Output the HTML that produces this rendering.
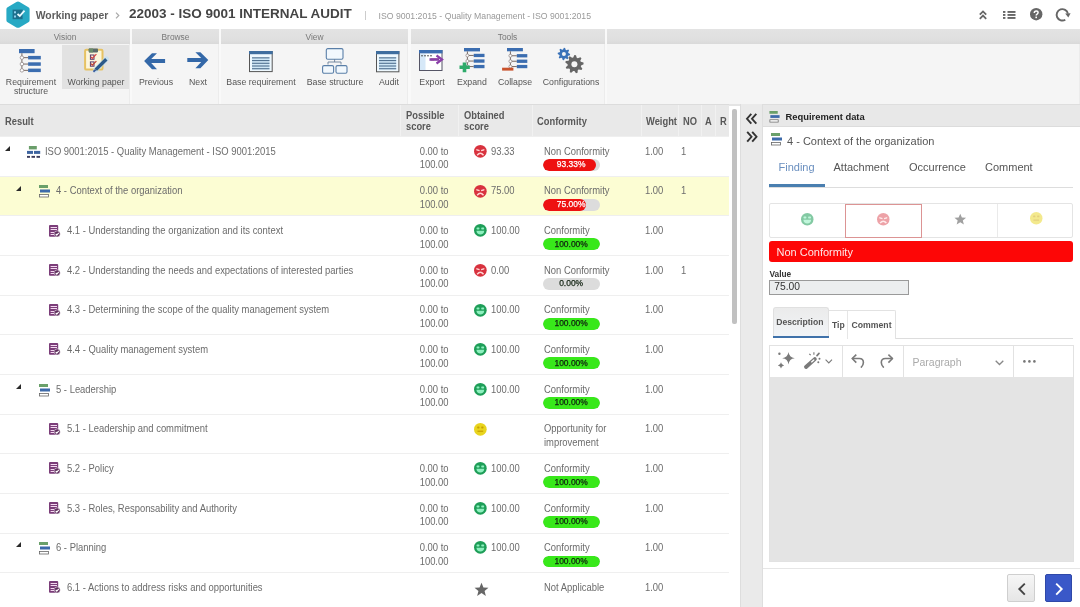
<!DOCTYPE html>
<html><head><meta charset="utf-8">
<style>
*{box-sizing:border-box;margin:0;padding:0}
html,body{width:1080px;height:607px;overflow:hidden;background:#fff;font-family:"Liberation Sans",sans-serif;color:#555}
.abs{position:absolute}
svg{display:block;overflow:visible}
#top{position:absolute;left:0;top:0;width:1080px;height:29px;background:#fff}
#wp{left:35.7px;top:9.6px;font-size:10.4px;font-weight:bold;color:#5c5c5c}
#title{left:129px;top:6.4px;font-size:13.5px;font-weight:bold;color:#444}
#sub{left:378.5px;top:10.5px;font-size:8.7px;color:#999}
.gh{position:absolute;top:29px;height:14.5px;background:linear-gradient(#e3e3e3,#dfdfdf 75%,#d9d9d9);font-size:8.4px;color:#777;text-align:center;line-height:16.6px}
.gb{position:absolute;top:43.5px;height:60.5px;background:#f5f5f5;border-right:1px solid #ececec}
.lb{position:absolute;font-size:9.4px;color:#555;line-height:9.1px;white-space:nowrap;text-align:center;transform:scaleX(0.936);transform-origin:50% 0}
#thead{position:absolute;left:0;top:104px;width:729px;height:32.5px;background:#e9e9e9;font-size:10.05px;font-weight:bold;color:#585858;border-top:1.5px solid #dcdcdc;border-bottom:1px solid #dadada}
#thead div{position:absolute;line-height:11px;transform:scaleX(0.93);transform-origin:0 0;white-space:nowrap}
#thead i{position:absolute;top:0;bottom:0;width:1px;background:#f1f1f1}
.row{position:absolute;left:0;width:729px;height:39.64px;border-top:1px solid #efefef;font-size:9.5px;color:#6c6c6c;background:#fff}
.row.sel{background:#fcfdd3}
.row > *{position:absolute}
.t{top:7.6px;line-height:13.7px;white-space:nowrap;font-size:10.2px;transform:scaleX(0.926);transform-origin:0 0}
.t.ps{transform-origin:100% 0}
.ps{left:400px;width:48.5px;text-align:right}
.ob{left:491px}
.cf{left:543.5px}
.wt{left:645px}
.no{left:681px}
.bar{top:22px;left:543.3px;width:56.3px;height:11.8px;border-radius:6px;background:#dcdcdc;overflow:hidden}
.bar i{position:absolute;left:0;top:0;bottom:0;border-radius:6px}
.bar b{position:absolute;left:0;right:0;top:0.3px;text-align:center;font-size:9.2px;font-weight:normal;line-height:11.8px;color:#fff;transform:scaleX(0.92);-webkit-text-stroke:0.25px currentColor}
.face{left:474.2px;top:7.9px}
#strip{position:absolute;left:740px;top:104px;width:22.5px;height:503px;background:#eaeaea;border-right:1px solid #dedede;border-left:1.5px solid #dddddd}
#panel{position:absolute;left:762.5px;top:104px;width:317.5px;height:503px;background:#fff}
#panel > *{position:absolute}
</style></head><body><div id="root" style="position:absolute;left:0;top:0;width:1080px;height:607px;overflow:hidden;background:#fff;will-change:transform">
<div id="top">
<svg class="abs" style="left:5.5px;top:0.8px" width="24" height="27.5" viewBox="0 0 24 27.5"><path d="M12 0.6 Q12.8 0.6 13.6 1.1 L22.4 6.2 Q23.6 6.9 23.6 8.3 L23.6 19.2 Q23.6 20.6 22.4 21.3 L13.6 26.4 Q12 27.3 10.4 26.4 L1.6 21.3 Q0.4 20.6 0.4 19.2 L0.4 8.3 Q0.4 6.9 1.6 6.2 L10.4 1.1 Q11.2 0.6 12 0.6 Z" fill="#27a9c4"/><rect x="6.6" y="8.6" width="10" height="9.6" fill="#1d6f8c"/><rect x="8" y="10.3" width="2" height="2" fill="#8fd0ee"/><rect x="8" y="14.5" width="2" height="2" fill="#8fd0ee"/><path d="M11.5 13 L13.8 15 L18.5 9.6" stroke="#e8fbff" stroke-width="1.9" fill="none"/></svg>
<div id="wp" class="abs">Working paper</div>
<svg class="abs" style="left:115.2px;top:11.5px" width="5" height="8" viewBox="0 0 5 8"><path d="M1 0.6 L3.8 3.5 L1 6.4" stroke="#aaa" stroke-width="1.2" fill="none"/></svg>
<div id="title" class="abs">22003 - ISO 9001 INTERNAL AUDIT</div>
<div class="abs" style="left:365px;top:11px;width:1px;height:9px;background:#ccc"></div>
<div id="sub" class="abs">ISO 9001:2015 - Quality Management - ISO 9001:2015</div>
<svg class="abs" style="left:978.5px;top:10px" width="8" height="9.5" viewBox="0 0 8 9.5"><path d="M0.8 4.6 L4 1.4 L7.2 4.6 M0.8 8.8 L4 5.6 L7.2 8.8" stroke="#666" stroke-width="1.8" fill="none"/></svg>
<svg class="abs" style="left:1003px;top:11px" width="13" height="8" viewBox="0 0 13 8"><rect x="0" y="0" width="2.4" height="1.9" fill="#666"/><rect x="0" y="3" width="2.4" height="1.9" fill="#666"/><rect x="0" y="6" width="2.4" height="1.9" fill="#666"/><rect x="4.5" y="0" width="8" height="1.9" fill="#666"/><rect x="4.5" y="3" width="8" height="1.9" fill="#666"/><rect x="4.5" y="6" width="8" height="1.9" fill="#666"/></svg>
<svg class="abs" style="left:1029.8px;top:8.3px" width="12.4" height="12.4" viewBox="0 0 12.4 12.4"><circle cx="6.2" cy="6.2" r="6.2" fill="#666"/><path d="M4.3 4.9 Q4.3 2.9 6.2 2.9 Q8.1 2.9 8.1 4.6 Q8.1 5.6 6.9 6.3 Q6.2 6.8 6.2 7.6" stroke="#fff" stroke-width="1.5" fill="none"/><rect x="5.4" y="8.6" width="1.6" height="1.6" fill="#fff"/></svg>
<svg class="abs" style="left:1056px;top:8px" width="16" height="14" viewBox="0 0 16 14"><path d="M9.3 11.7 A5.7 5.7 0 1 1 11.9 5.6" stroke="#666" stroke-width="1.9" fill="none"/><path d="M9.2 5.6 L14.6 5.3 L12.3 9.6 Z" fill="#666"/></svg>
</div>
<div class="abs" style="left:0;top:29px;width:1080px;height:75px;background:#f9f9f9"></div>
<div class="gh" style="left:0px;width:130px">Vision</div>
<div class="gb" style="left:0px;width:130px"></div>
<div class="gh" style="left:132px;width:87px">Browse</div>
<div class="gb" style="left:132px;width:87px"></div>
<div class="gh" style="left:221px;width:187px">View</div>
<div class="gb" style="left:221px;width:187px"></div>
<div class="gh" style="left:410.5px;width:194px">Tools</div>
<div class="gb" style="left:410.5px;width:194px"></div>
<div class="gh" style="left:606.5px;width:473.5px"></div>
<div class="gb" style="left:606.5px;width:473.5px"></div>
<div class="abs" style="left:62px;top:44.5px;width:66.5px;height:44px;background:#e2e2e2"></div>
<div class="lb" style="left:-19px;width:100px;top:77.4px">Requirement<br>structure</div>
<div class="lb" style="left:45.5px;width:100px;top:77.4px">Working paper</div>
<div class="lb" style="left:105.5px;width:100px;top:77.4px">Previous</div>
<div class="lb" style="left:147.5px;width:100px;top:77.4px">Next</div>
<div class="lb" style="left:211px;width:100px;top:77.4px">Base requirement</div>
<div class="lb" style="left:284.5px;width:100px;top:77.4px">Base structure</div>
<div class="lb" style="left:338.5px;width:100px;top:77.4px">Audit</div>
<div class="lb" style="left:382px;width:100px;top:77.4px">Export</div>
<div class="lb" style="left:421.5px;width:100px;top:77.4px">Expand</div>
<div class="lb" style="left:464.5px;width:100px;top:77.4px">Collapse</div>
<div class="lb" style="left:520.5px;width:100px;top:77.4px">Configurations</div>
<svg class="abs" style="left:19.2px;top:49.2px" width="24" height="26" viewBox="0 0 24 26"><rect x="0" y="0" width="15.6" height="4.2" fill="#3b6db0"/><path d="M2.9 4.2 V21.35" stroke="#6a5a55" stroke-width="0.9"/><rect x="9.1" y="6.9" width="12.700000000000001" height="3.5" fill="#3b6db0"/><path d="M2.9 8.65 H9.1" stroke="#6a5a55" stroke-width="0.9"/><circle cx="2.9" cy="8.65" r="1.75" fill="#fff" stroke="#8a8080" stroke-width="0.7"/><rect x="9.1" y="13.3" width="12.700000000000001" height="3.5" fill="#3b6db0"/><path d="M2.9 15.05 H9.1" stroke="#6a5a55" stroke-width="0.9"/><circle cx="2.9" cy="15.05" r="1.75" fill="#fff" stroke="#8a8080" stroke-width="0.7"/><rect x="9.1" y="19.6" width="12.700000000000001" height="3.5" fill="#3b6db0"/><path d="M2.9 21.35 H9.1" stroke="#6a5a55" stroke-width="0.9"/><circle cx="2.9" cy="21.35" r="1.75" fill="#fff" stroke="#8a8080" stroke-width="0.7"/></svg>
<svg class="abs" style="left:80px;top:45px" width="32" height="30" viewBox="0 0 32 30"><rect x="5.1" y="4.8" width="17.4" height="19.8" rx="1.2" fill="#fcf6dc" stroke="#e6c263" stroke-width="2"/><rect x="8.6" y="3.5" width="9.4" height="3.9" rx="0.8" fill="#5a6a6a"/><rect x="9" y="3.5" width="4" height="3.9" fill="#6a8a6a"/><rect x="10.4" y="10" width="3.6" height="4.3" fill="none" stroke="#5a3a6a" stroke-width="1"/><path d="M11 11.8 L12.3 13.3 L16.4 9.2" stroke="#d84040" stroke-width="1.2" fill="none"/><rect x="10.4" y="16.9" width="3.6" height="4.3" fill="none" stroke="#5a3a6a" stroke-width="1"/><path d="M11 18.7 L12.3 20.2 L16.4 16.1" stroke="#c04030" stroke-width="1.2" fill="none"/><path d="M15.5 25 L26.5 14" stroke="#b8e0f8" stroke-width="5" stroke-linecap="round" opacity="0.6"/><path d="M15.8 24.6 L26.3 14.2" stroke="#2d5a8a" stroke-width="3.4"/><path d="M13.4 26.7 L15.8 24.6" stroke="#3a5a9a" stroke-width="1.8"/></svg>
<svg class="abs" style="left:140px;top:48px" width="30" height="26" viewBox="0 0 30 26"><path d="M4.1 13.1 L12 5.2 L17 5.2 L11.2 11 L25.1 11 L25.1 14.9 L11.2 14.9 L17 21.2 L12 21.2 Z" fill="#3468a8"/></svg>
<svg class="abs" style="left:183px;top:47.2px" width="30" height="26" viewBox="0 0 30 26"><path d="M25.3 13.1 L17.4 5.2 L12.4 5.2 L18.2 11 L4.3 11 L4.3 14.9 L18.2 14.9 L12.4 21.2 L17.4 21.2 Z" fill="#3468a8"/></svg>
<svg class="abs" style="left:249px;top:50.6px" width="23.7" height="21.1" viewBox="0 0 23.7 21.1"><rect x="0.5" y="0.5" width="22.7" height="20.1" fill="#eef8fe" stroke="#555" stroke-width="1"/><rect x="0" y="0" width="23.7" height="3.2" fill="#3f6e9f"/><rect x="3" y="6.2" width="17.5" height="12.4" fill="#cfe7f6"/><rect x="3" y="6.30" width="17.5" height="1.1" fill="#50708f"/><rect x="3" y="9.02" width="17.5" height="1.1" fill="#50708f"/><rect x="3" y="11.74" width="17.5" height="1.1" fill="#50708f"/><rect x="3" y="14.46" width="17.5" height="1.1" fill="#50708f"/><rect x="3" y="17.18" width="17.5" height="1.1" fill="#50708f"/></svg>
<svg class="abs" style="left:321.5px;top:47.8px" width="26" height="26" viewBox="0 0 26 26"><rect x="4.3" y="0.6" width="16.7" height="10.6" rx="1.5" fill="#f2f8fd" stroke="#5a7fa8" stroke-width="1.1"/><path d="M12.6 11.2 V14 M6 16.5 V14 H19 V16.5" stroke="#6a7f98" stroke-width="0.9" fill="none"/><rect x="0.6" y="17.6" width="11" height="7.6" rx="1.5" fill="#f2f8fd" stroke="#5a7fa8" stroke-width="1.1"/><rect x="14" y="17.6" width="11" height="7.6" rx="1.5" fill="#f2f8fd" stroke="#5a7fa8" stroke-width="1.1"/></svg>
<svg class="abs" style="left:376.2px;top:50.7px" width="23.4" height="21.3" viewBox="0 0 23.4 21.3"><rect x="0.5" y="0.5" width="22.4" height="20.3" fill="#eef8fe" stroke="#555" stroke-width="1"/><rect x="0" y="0" width="23.4" height="3.2" fill="#3f6e9f"/><rect x="3" y="6.2" width="17.2" height="12.4" fill="#cfe7f6"/><rect x="3" y="6.30" width="17.2" height="1.1" fill="#50708f"/><rect x="3" y="9.02" width="17.2" height="1.1" fill="#50708f"/><rect x="3" y="11.74" width="17.2" height="1.1" fill="#50708f"/><rect x="3" y="14.46" width="17.2" height="1.1" fill="#50708f"/><rect x="3" y="17.18" width="17.2" height="1.1" fill="#50708f"/></svg>
<svg class="abs" style="left:419.2px;top:49.9px" width="26" height="21" viewBox="0 0 26 21"><rect x="0.5" y="0.5" width="22.5" height="20" fill="#fff" stroke="#556" stroke-width="1"/><rect x="0" y="0" width="23.5" height="3.4" fill="#3b6db0"/><rect x="1" y="4" width="5.5" height="16" fill="#d6e8f8"/><path d="M2 5.8 H4 M5 5.8 H7 M8 5.8 H10 M11 5.8 H13" stroke="#555" stroke-width="1"/><path d="M12 8.5 H21 M12 10.5 H15" stroke="#caa" stroke-width="0.8"/><path d="M10.5 9.5 H20" stroke="#8a3fa8" stroke-width="2.6"/><path d="M17.5 5.5 L23 9.5 L17.5 13.5" stroke="#8a3fa8" stroke-width="2.2" fill="none"/></svg>
<svg class="abs" style="left:464px;top:48.2px" width="24" height="26" viewBox="0 0 24 26"><rect x="0" y="0" width="16" height="3.4" fill="#3b6db0"/><path d="M3.4 3.4 V18.549999999999997" stroke="#6a5a55" stroke-width="0.9"/><rect x="9.7" y="5.8" width="10.8" height="3.3" fill="#3b6db0"/><path d="M3.4 7.449999999999999 H9.7" stroke="#6a5a55" stroke-width="0.9"/><circle cx="3.4" cy="7.449999999999999" r="1.5" fill="#fff" stroke="#8a8080" stroke-width="0.7"/><rect x="9.7" y="11.4" width="10.8" height="3.3" fill="#3b6db0"/><path d="M3.4 13.05 H9.7" stroke="#6a5a55" stroke-width="0.9"/><circle cx="3.4" cy="13.05" r="1.5" fill="#fff" stroke="#8a8080" stroke-width="0.7"/><rect x="9.7" y="16.9" width="10.8" height="3.3" fill="#3b6db0"/><path d="M3.4 18.549999999999997 H9.7" stroke="#6a5a55" stroke-width="0.9"/><circle cx="3.4" cy="18.549999999999997" r="1.5" fill="#fff" stroke="#8a8080" stroke-width="0.7"/><path d="M-4.5 19.3 H5.8 M0.5 14.5 V24.3" stroke="#2eaa6a" stroke-width="3.6"/></svg>
<svg class="abs" style="left:506.9px;top:48.1px" width="24" height="26" viewBox="0 0 24 26"><rect x="0" y="0" width="15.9" height="3.3" fill="#3b6db0"/><path d="M3.4 3.3 V18.549999999999997" stroke="#6a5a55" stroke-width="0.9"/><rect x="9.8" y="6.1" width="10.5" height="3.3" fill="#3b6db0"/><path d="M3.4 7.75 H9.8" stroke="#6a5a55" stroke-width="0.9"/><circle cx="3.4" cy="7.75" r="1.5" fill="#fff" stroke="#8a8080" stroke-width="0.7"/><rect x="9.8" y="11.6" width="10.5" height="3.3" fill="#3b6db0"/><path d="M3.4 13.25 H9.8" stroke="#6a5a55" stroke-width="0.9"/><circle cx="3.4" cy="13.25" r="1.5" fill="#fff" stroke="#8a8080" stroke-width="0.7"/><rect x="9.8" y="16.9" width="10.5" height="3.3" fill="#3b6db0"/><path d="M3.4 18.549999999999997 H9.8" stroke="#6a5a55" stroke-width="0.9"/><circle cx="3.4" cy="18.549999999999997" r="1.5" fill="#fff" stroke="#8a8080" stroke-width="0.7"/><rect x="-4.9" y="19.7" width="11.3" height="2.9" fill="#c9522b"/></svg>
<svg class="abs" style="left:556px;top:46px" width="30" height="30" viewBox="0 0 30 30"><polygon points="7.90,1.80 9.11,1.92 9.66,3.75 10.46,4.18 12.28,3.62 13.06,4.56 12.15,6.24 12.41,7.10 14.10,8.00 13.98,9.21 12.15,9.76 11.72,10.56 12.28,12.38 11.34,13.16 9.66,12.25 8.80,12.51 7.90,14.20 6.69,14.08 6.14,12.25 5.34,11.82 3.52,12.38 2.74,11.44 3.65,9.76 3.39,8.90 1.70,8.00 1.82,6.79 3.65,6.24 4.08,5.44 3.52,3.62 4.46,2.84 6.14,3.75 7.00,3.49" fill="#3a72b8"/><circle cx="7.9" cy="8" r="2.0" fill="#f4f4f4"/><polygon points="18.40,9.00 20.00,9.14 20.73,11.81 21.80,12.31 24.31,11.15 25.45,12.29 24.29,14.80 24.79,15.87 27.46,16.60 27.60,18.20 25.10,19.38 24.79,20.53 26.37,22.80 25.45,24.11 22.77,23.41 21.80,24.09 21.55,26.85 20.00,27.26 18.40,25.00 17.22,24.90 15.25,26.85 13.80,26.17 14.03,23.41 13.19,22.57 10.43,22.80 9.75,21.35 11.70,19.38 11.60,18.20 9.34,16.60 9.75,15.05 12.51,14.80 13.19,13.83 12.49,11.15 13.80,10.23 16.07,11.81 17.22,11.50" fill="#666"/><circle cx="18.4" cy="18.2" r="3.0" fill="#f4f4f4"/></svg>
<div id="thead">
  <i style="left:400px"></i><i style="left:457.5px"></i><i style="left:531.5px"></i><i style="left:640.5px"></i><i style="left:678px"></i><i style="left:700.5px"></i><i style="left:714.5px"></i>
  <div style="left:5px;top:11px">Result</div>
  <div style="left:406px;top:5.3px">Possible<br>score</div>
  <div style="left:464px;top:5.3px">Obtained<br>score</div>
  <div style="left:537px;top:11px">Conformity</div>
  <div style="left:646px;top:11px">Weight</div>
  <div style="left:683px;top:11px">NO</div>
  <div style="left:705px;top:11px">A</div>
  <div style="left:719.5px;top:11px">R</div>
</div>
<div class="row" style="top:136.20px"><div style="left:4.8px;top:8.9px"><svg width="5" height="5" viewBox="0 0 5 5"><path d="M5 0 L5 5 L0 5 Z" fill="#2a2a2a"/></svg></div><div style="left:27px;top:8.8px"><svg width="14" height="13" viewBox="0 0 14 13"><rect x="1.9" y="0" width="7.9" height="3.4" fill="#6a9e6a"/><rect x="0" y="4.9" width="6" height="3" fill="#3d64a0"/><rect x="7" y="4.9" width="6.2" height="3" fill="#3d64a0"/><rect x="0" y="9.9" width="3" height="1.9" fill="#3a3a5a"/><rect x="4.5" y="9.9" width="3.5" height="1.9" fill="#3a3a5a"/><rect x="9.5" y="9.9" width="3.5" height="1.9" fill="#3a3a5a"/></svg></div><div class="t" style="left:44.5px">ISO 9001:2015 - Quality Management - ISO 9001:2015</div><div class="t ps">0.00 to<br>100.00</div><div class="face"><svg width="12.7" height="12.7" viewBox="0 0 20 20" style="opacity:1.0"><circle cx="10" cy="10" r="10" fill="#d8323e"/><path d="M3.6 6.2 L9 8 L8.6 9.8 L3.8 8.6 Z" fill="#ffd6d6"/><path d="M16.4 6.2 L11 8 L11.4 9.8 L16.2 8.6 Z" fill="#ffd6d6"/><path d="M5 16 Q10 10.2 15 16" stroke="#ffd6d6" stroke-width="2.4" fill="none"/></svg></div><div class="t ob">93.33</div><div class="t cf">Non Conformity</div><div class="bar"><i style="width:93.33%;background:#ee1111"></i><b style="color:#fff">93.33%</b></div><div class="t wt">1.00</div><div class="t no">1</div></div>
<div class="row sel" style="top:175.84px"><div style="left:16px;top:8.9px"><svg width="5" height="5" viewBox="0 0 5 5"><path d="M5 0 L5 5 L0 5 Z" fill="#2a2a2a"/></svg></div><div style="left:39px;top:8.5px"><svg width="11" height="13" viewBox="0 0 11 13"><rect x="0" y="0" width="9" height="3" fill="#6aa06a"/><rect x="1" y="4.5" width="10" height="3" fill="#3d6aaa"/><rect x="0.5" y="9.5" width="9" height="2.5" fill="#fff" stroke="#666" stroke-width="0.8"/></svg></div><div class="t" style="left:56px">4 - Context of the organization</div><div class="t ps">0.00 to<br>100.00</div><div class="face"><svg width="12.7" height="12.7" viewBox="0 0 20 20" style="opacity:1.0"><circle cx="10" cy="10" r="10" fill="#d8323e"/><path d="M3.6 6.2 L9 8 L8.6 9.8 L3.8 8.6 Z" fill="#ffd6d6"/><path d="M16.4 6.2 L11 8 L11.4 9.8 L16.2 8.6 Z" fill="#ffd6d6"/><path d="M5 16 Q10 10.2 15 16" stroke="#ffd6d6" stroke-width="2.4" fill="none"/></svg></div><div class="t ob">75.00</div><div class="t cf">Non Conformity</div><div class="bar"><i style="width:75%;background:#ee1111"></i><b style="color:#fff">75.00%</b></div><div class="t wt">1.00</div><div class="t no">1</div></div>
<div class="row" style="top:215.48px"><div style="left:49px;top:8.1px"><svg width="12" height="13" viewBox="0 0 12 13"><rect x="0" y="0" width="9.2" height="11.8" rx="1" fill="#7b3d79"/><rect x="1.6" y="2" width="6.4" height="1" fill="#f4d8f0"/><rect x="1.6" y="4" width="6.4" height="1" fill="#f4d8f0"/><rect x="1.6" y="7" width="3.4" height="1" fill="#f4d8f0"/><rect x="1.6" y="9" width="3.4" height="1" fill="#f4d8f0"/><circle cx="8.2" cy="8.9" r="3" fill="#5e2c5c" stroke="#fff" stroke-width="0.5"/><path d="M6.7 8.9 L7.8 10.1 L9.8 7.8" stroke="#fff" stroke-width="1.1" fill="none"/></svg></div><div class="t" style="left:66.5px">4.1 - Understanding the organization and its context</div><div class="t ps">0.00 to<br>100.00</div><div class="face"><svg width="12.7" height="12.7" viewBox="0 0 20 20" style="opacity:1.0"><circle cx="10" cy="10" r="10" fill="#1e9e58"/><rect x="4" y="5.6" width="4.6" height="3" rx="1" fill="#8ef0bf"/><rect x="11.4" y="5.6" width="4.6" height="3" rx="1" fill="#8ef0bf"/><path d="M3.8 10.6 H16.2 Q15.6 16.6 10 16.6 Q4.4 16.6 3.8 10.6 Z" fill="#8ef0bf"/></svg></div><div class="t ob">100.00</div><div class="t cf">Conformity</div><div class="bar"><i style="width:100%;background:#38e81a"></i><b style="color:#102010">100.00%</b></div><div class="t wt">1.00</div></div>
<div class="row" style="top:255.12px"><div style="left:49px;top:8.1px"><svg width="12" height="13" viewBox="0 0 12 13"><rect x="0" y="0" width="9.2" height="11.8" rx="1" fill="#7b3d79"/><rect x="1.6" y="2" width="6.4" height="1" fill="#f4d8f0"/><rect x="1.6" y="4" width="6.4" height="1" fill="#f4d8f0"/><rect x="1.6" y="7" width="3.4" height="1" fill="#f4d8f0"/><rect x="1.6" y="9" width="3.4" height="1" fill="#f4d8f0"/><circle cx="8.2" cy="8.9" r="3" fill="#5e2c5c" stroke="#fff" stroke-width="0.5"/><path d="M6.7 8.9 L7.8 10.1 L9.8 7.8" stroke="#fff" stroke-width="1.1" fill="none"/></svg></div><div class="t" style="left:66.5px">4.2 - Understanding the needs and expectations of interested parties</div><div class="t ps">0.00 to<br>100.00</div><div class="face"><svg width="12.7" height="12.7" viewBox="0 0 20 20" style="opacity:1.0"><circle cx="10" cy="10" r="10" fill="#d8323e"/><path d="M3.6 6.2 L9 8 L8.6 9.8 L3.8 8.6 Z" fill="#ffd6d6"/><path d="M16.4 6.2 L11 8 L11.4 9.8 L16.2 8.6 Z" fill="#ffd6d6"/><path d="M5 16 Q10 10.2 15 16" stroke="#ffd6d6" stroke-width="2.4" fill="none"/></svg></div><div class="t ob">0.00</div><div class="t cf">Non Conformity</div><div class="bar"><i style="width:0%;background:#ee1111"></i><b style="color:#102010">0.00%</b></div><div class="t wt">1.00</div><div class="t no">1</div></div>
<div class="row" style="top:294.76px"><div style="left:49px;top:8.1px"><svg width="12" height="13" viewBox="0 0 12 13"><rect x="0" y="0" width="9.2" height="11.8" rx="1" fill="#7b3d79"/><rect x="1.6" y="2" width="6.4" height="1" fill="#f4d8f0"/><rect x="1.6" y="4" width="6.4" height="1" fill="#f4d8f0"/><rect x="1.6" y="7" width="3.4" height="1" fill="#f4d8f0"/><rect x="1.6" y="9" width="3.4" height="1" fill="#f4d8f0"/><circle cx="8.2" cy="8.9" r="3" fill="#5e2c5c" stroke="#fff" stroke-width="0.5"/><path d="M6.7 8.9 L7.8 10.1 L9.8 7.8" stroke="#fff" stroke-width="1.1" fill="none"/></svg></div><div class="t" style="left:66.5px">4.3 - Determining the scope of the quality management system</div><div class="t ps">0.00 to<br>100.00</div><div class="face"><svg width="12.7" height="12.7" viewBox="0 0 20 20" style="opacity:1.0"><circle cx="10" cy="10" r="10" fill="#1e9e58"/><rect x="4" y="5.6" width="4.6" height="3" rx="1" fill="#8ef0bf"/><rect x="11.4" y="5.6" width="4.6" height="3" rx="1" fill="#8ef0bf"/><path d="M3.8 10.6 H16.2 Q15.6 16.6 10 16.6 Q4.4 16.6 3.8 10.6 Z" fill="#8ef0bf"/></svg></div><div class="t ob">100.00</div><div class="t cf">Conformity</div><div class="bar"><i style="width:100%;background:#38e81a"></i><b style="color:#102010">100.00%</b></div><div class="t wt">1.00</div></div>
<div class="row" style="top:334.40px"><div style="left:49px;top:8.1px"><svg width="12" height="13" viewBox="0 0 12 13"><rect x="0" y="0" width="9.2" height="11.8" rx="1" fill="#7b3d79"/><rect x="1.6" y="2" width="6.4" height="1" fill="#f4d8f0"/><rect x="1.6" y="4" width="6.4" height="1" fill="#f4d8f0"/><rect x="1.6" y="7" width="3.4" height="1" fill="#f4d8f0"/><rect x="1.6" y="9" width="3.4" height="1" fill="#f4d8f0"/><circle cx="8.2" cy="8.9" r="3" fill="#5e2c5c" stroke="#fff" stroke-width="0.5"/><path d="M6.7 8.9 L7.8 10.1 L9.8 7.8" stroke="#fff" stroke-width="1.1" fill="none"/></svg></div><div class="t" style="left:66.5px">4.4 - Quality management system</div><div class="t ps">0.00 to<br>100.00</div><div class="face"><svg width="12.7" height="12.7" viewBox="0 0 20 20" style="opacity:1.0"><circle cx="10" cy="10" r="10" fill="#1e9e58"/><rect x="4" y="5.6" width="4.6" height="3" rx="1" fill="#8ef0bf"/><rect x="11.4" y="5.6" width="4.6" height="3" rx="1" fill="#8ef0bf"/><path d="M3.8 10.6 H16.2 Q15.6 16.6 10 16.6 Q4.4 16.6 3.8 10.6 Z" fill="#8ef0bf"/></svg></div><div class="t ob">100.00</div><div class="t cf">Conformity</div><div class="bar"><i style="width:100%;background:#38e81a"></i><b style="color:#102010">100.00%</b></div><div class="t wt">1.00</div></div>
<div class="row" style="top:374.04px"><div style="left:16px;top:8.9px"><svg width="5" height="5" viewBox="0 0 5 5"><path d="M5 0 L5 5 L0 5 Z" fill="#2a2a2a"/></svg></div><div style="left:39px;top:8.5px"><svg width="11" height="13" viewBox="0 0 11 13"><rect x="0" y="0" width="9" height="3" fill="#6aa06a"/><rect x="1" y="4.5" width="10" height="3" fill="#3d6aaa"/><rect x="0.5" y="9.5" width="9" height="2.5" fill="#fff" stroke="#666" stroke-width="0.8"/></svg></div><div class="t" style="left:56px">5 - Leadership</div><div class="t ps">0.00 to<br>100.00</div><div class="face"><svg width="12.7" height="12.7" viewBox="0 0 20 20" style="opacity:1.0"><circle cx="10" cy="10" r="10" fill="#1e9e58"/><rect x="4" y="5.6" width="4.6" height="3" rx="1" fill="#8ef0bf"/><rect x="11.4" y="5.6" width="4.6" height="3" rx="1" fill="#8ef0bf"/><path d="M3.8 10.6 H16.2 Q15.6 16.6 10 16.6 Q4.4 16.6 3.8 10.6 Z" fill="#8ef0bf"/></svg></div><div class="t ob">100.00</div><div class="t cf">Conformity</div><div class="bar"><i style="width:100%;background:#38e81a"></i><b style="color:#102010">100.00%</b></div><div class="t wt">1.00</div></div>
<div class="row" style="top:413.68px"><div style="left:49px;top:8.1px"><svg width="12" height="13" viewBox="0 0 12 13"><rect x="0" y="0" width="9.2" height="11.8" rx="1" fill="#7b3d79"/><rect x="1.6" y="2" width="6.4" height="1" fill="#f4d8f0"/><rect x="1.6" y="4" width="6.4" height="1" fill="#f4d8f0"/><rect x="1.6" y="7" width="3.4" height="1" fill="#f4d8f0"/><rect x="1.6" y="9" width="3.4" height="1" fill="#f4d8f0"/><circle cx="8.2" cy="8.9" r="3" fill="#5e2c5c" stroke="#fff" stroke-width="0.5"/><path d="M6.7 8.9 L7.8 10.1 L9.8 7.8" stroke="#fff" stroke-width="1.1" fill="none"/></svg></div><div class="t" style="left:66.5px">5.1 - Leadership and commitment</div><div class="face"><svg width="12.7" height="12.7" viewBox="0 0 20 20" style="opacity:1.0"><circle cx="10" cy="10" r="10" fill="#e8d41e"/><rect x="5" y="5.5" width="3.6" height="3" rx="1" fill="#c8a000"/><rect x="11.4" y="5.5" width="3.6" height="3" rx="1" fill="#c8a000"/><path d="M5.5 13 H14.5" stroke="#c8a000" stroke-width="2"/></svg></div><div class="t cf">Opportunity for<br>improvement</div><div class="t wt">1.00</div></div>
<div class="row" style="top:453.32px"><div style="left:49px;top:8.1px"><svg width="12" height="13" viewBox="0 0 12 13"><rect x="0" y="0" width="9.2" height="11.8" rx="1" fill="#7b3d79"/><rect x="1.6" y="2" width="6.4" height="1" fill="#f4d8f0"/><rect x="1.6" y="4" width="6.4" height="1" fill="#f4d8f0"/><rect x="1.6" y="7" width="3.4" height="1" fill="#f4d8f0"/><rect x="1.6" y="9" width="3.4" height="1" fill="#f4d8f0"/><circle cx="8.2" cy="8.9" r="3" fill="#5e2c5c" stroke="#fff" stroke-width="0.5"/><path d="M6.7 8.9 L7.8 10.1 L9.8 7.8" stroke="#fff" stroke-width="1.1" fill="none"/></svg></div><div class="t" style="left:66.5px">5.2 - Policy</div><div class="t ps">0.00 to<br>100.00</div><div class="face"><svg width="12.7" height="12.7" viewBox="0 0 20 20" style="opacity:1.0"><circle cx="10" cy="10" r="10" fill="#1e9e58"/><rect x="4" y="5.6" width="4.6" height="3" rx="1" fill="#8ef0bf"/><rect x="11.4" y="5.6" width="4.6" height="3" rx="1" fill="#8ef0bf"/><path d="M3.8 10.6 H16.2 Q15.6 16.6 10 16.6 Q4.4 16.6 3.8 10.6 Z" fill="#8ef0bf"/></svg></div><div class="t ob">100.00</div><div class="t cf">Conformity</div><div class="bar"><i style="width:100%;background:#38e81a"></i><b style="color:#102010">100.00%</b></div><div class="t wt">1.00</div></div>
<div class="row" style="top:492.96px"><div style="left:49px;top:8.1px"><svg width="12" height="13" viewBox="0 0 12 13"><rect x="0" y="0" width="9.2" height="11.8" rx="1" fill="#7b3d79"/><rect x="1.6" y="2" width="6.4" height="1" fill="#f4d8f0"/><rect x="1.6" y="4" width="6.4" height="1" fill="#f4d8f0"/><rect x="1.6" y="7" width="3.4" height="1" fill="#f4d8f0"/><rect x="1.6" y="9" width="3.4" height="1" fill="#f4d8f0"/><circle cx="8.2" cy="8.9" r="3" fill="#5e2c5c" stroke="#fff" stroke-width="0.5"/><path d="M6.7 8.9 L7.8 10.1 L9.8 7.8" stroke="#fff" stroke-width="1.1" fill="none"/></svg></div><div class="t" style="left:66.5px">5.3 - Roles, Responsability and Authority</div><div class="t ps">0.00 to<br>100.00</div><div class="face"><svg width="12.7" height="12.7" viewBox="0 0 20 20" style="opacity:1.0"><circle cx="10" cy="10" r="10" fill="#1e9e58"/><rect x="4" y="5.6" width="4.6" height="3" rx="1" fill="#8ef0bf"/><rect x="11.4" y="5.6" width="4.6" height="3" rx="1" fill="#8ef0bf"/><path d="M3.8 10.6 H16.2 Q15.6 16.6 10 16.6 Q4.4 16.6 3.8 10.6 Z" fill="#8ef0bf"/></svg></div><div class="t ob">100.00</div><div class="t cf">Conformity</div><div class="bar"><i style="width:100%;background:#38e81a"></i><b style="color:#102010">100.00%</b></div><div class="t wt">1.00</div></div>
<div class="row" style="top:532.60px"><div style="left:16px;top:8.9px"><svg width="5" height="5" viewBox="0 0 5 5"><path d="M5 0 L5 5 L0 5 Z" fill="#2a2a2a"/></svg></div><div style="left:39px;top:8.5px"><svg width="11" height="13" viewBox="0 0 11 13"><rect x="0" y="0" width="9" height="3" fill="#6aa06a"/><rect x="1" y="4.5" width="10" height="3" fill="#3d6aaa"/><rect x="0.5" y="9.5" width="9" height="2.5" fill="#fff" stroke="#666" stroke-width="0.8"/></svg></div><div class="t" style="left:56px">6 - Planning</div><div class="t ps">0.00 to<br>100.00</div><div class="face"><svg width="12.7" height="12.7" viewBox="0 0 20 20" style="opacity:1.0"><circle cx="10" cy="10" r="10" fill="#1e9e58"/><rect x="4" y="5.6" width="4.6" height="3" rx="1" fill="#8ef0bf"/><rect x="11.4" y="5.6" width="4.6" height="3" rx="1" fill="#8ef0bf"/><path d="M3.8 10.6 H16.2 Q15.6 16.6 10 16.6 Q4.4 16.6 3.8 10.6 Z" fill="#8ef0bf"/></svg></div><div class="t ob">100.00</div><div class="t cf">Conformity</div><div class="bar"><i style="width:100%;background:#38e81a"></i><b style="color:#102010">100.00%</b></div><div class="t wt">1.00</div></div>
<div class="row" style="top:572.24px"><div style="left:49px;top:8.1px"><svg width="12" height="13" viewBox="0 0 12 13"><rect x="0" y="0" width="9.2" height="11.8" rx="1" fill="#7b3d79"/><rect x="1.6" y="2" width="6.4" height="1" fill="#f4d8f0"/><rect x="1.6" y="4" width="6.4" height="1" fill="#f4d8f0"/><rect x="1.6" y="7" width="3.4" height="1" fill="#f4d8f0"/><rect x="1.6" y="9" width="3.4" height="1" fill="#f4d8f0"/><circle cx="8.2" cy="8.9" r="3" fill="#5e2c5c" stroke="#fff" stroke-width="0.5"/><path d="M6.7 8.9 L7.8 10.1 L9.8 7.8" stroke="#fff" stroke-width="1.1" fill="none"/></svg></div><div class="t" style="left:66.5px">6.1 - Actions to address risks and opportunities</div><div class="face" style="left:473.5px;top:8.5px"><svg width="15" height="15" viewBox="0 0 20 20"><path d="M10 1 L12.6 7.2 L19.3 7.6 L14.1 11.9 L15.8 18.5 L10 14.8 L4.2 18.5 L5.9 11.9 L0.7 7.6 L7.4 7.2 Z" fill="#666"/></svg></div><div class="t cf">Not Applicable</div><div class="t wt">1.00</div></div>
<div class="abs" style="left:729px;top:104px;width:11px;height:503px;background:#fff;border-top:2px solid #e4e4e4"></div>
<div class="abs" style="left:732.3px;top:109px;width:4.6px;height:215px;background:#c1c1c1;border-radius:2px"></div>
<div id="strip"></div>
<svg class="abs" style="left:746px;top:113px" width="11.5" height="11.5" viewBox="0 0 11.5 11.5"><path d="M5.3 0.8 L1 5.75 L5.3 10.7 M10.3 0.8 L6 5.75 L10.3 10.7" stroke="#333" stroke-width="1.9" fill="none"/></svg>
<svg class="abs" style="left:745.5px;top:131.2px" width="11.5" height="11.5" viewBox="0 0 11.5 11.5"><path d="M1.2 0.8 L5.5 5.75 L1.2 10.7 M6.2 0.8 L10.5 5.75 L6.2 10.7" stroke="#333" stroke-width="1.9" fill="none"/></svg>
<div id="panel">
<div style="left:0;top:0;width:317.5px;height:23px;background:#e8e8e8;border-top:1px solid #dedede;border-bottom:1px solid #dcdcdc"></div>
<div style="left:6.5px;top:7px"><svg width="11" height="12" viewBox="0 0 11 13"><rect x="0" y="0" width="9" height="3" fill="#6aa06a"/><rect x="1" y="4.5" width="10" height="3" fill="#3d6aaa"/><rect x="0.5" y="9.5" width="9" height="2.5" fill="#fff" stroke="#666" stroke-width="0.8"/></svg></div>
<div style="left:23px;top:6.5px;font-size:9.4px;font-weight:bold;color:#222">Requirement data</div>
<div style="left:8.5px;top:29px"><svg width="11" height="13" viewBox="0 0 11 13"><rect x="0" y="0" width="9" height="3" fill="#6aa06a"/><rect x="1" y="4.5" width="10" height="3" fill="#3d6aaa"/><rect x="0.5" y="9.5" width="9" height="2.5" fill="#fff" stroke="#666" stroke-width="0.8"/></svg></div>
<div style="left:24.5px;top:30.5px;font-size:11px;color:#555">4 - Context of the organization</div>
<div style="left:16px;top:57px;font-size:11px;color:#6a8fbf">Finding</div>
<div style="left:71px;top:57px;font-size:11px;color:#555">Attachment</div>
<div style="left:146.5px;top:57px;font-size:11px;color:#555">Occurrence</div>
<div style="left:222.5px;top:57px;font-size:11px;color:#555">Comment</div>
<div style="left:6px;top:82.5px;width:304.5px;height:1px;background:#ddd"></div>
<div style="left:6px;top:80px;width:56.3px;height:3.3px;background:#4a7fb0"></div>
<div style="left:6.5px;top:99px;width:304px;height:35px;border:1px solid #e4e4e4;border-radius:2px"></div>
<div style="left:158px;top:100px;width:1px;height:33px;background:#eaeaea"></div>
<div style="left:234.5px;top:100px;width:1px;height:33px;background:#eaeaea"></div>
<div style="left:82.5px;top:99.5px;width:77px;height:34px;border:1px solid #dc9494"></div>
<div style="left:38.5px;top:108.5px"><svg width="12.5" height="12.5" viewBox="0 0 20 20" style="opacity:0.55"><circle cx="10" cy="10" r="10" fill="#1e9e58"/><rect x="4" y="5.6" width="4.6" height="3" rx="1" fill="#8ef0bf"/><rect x="11.4" y="5.6" width="4.6" height="3" rx="1" fill="#8ef0bf"/><path d="M3.8 10.6 H16.2 Q15.6 16.6 10 16.6 Q4.4 16.6 3.8 10.6 Z" fill="#8ef0bf"/></svg></div>
<div style="left:114.5px;top:108.5px"><svg width="12.5" height="12.5" viewBox="0 0 20 20" style="opacity:0.45"><circle cx="10" cy="10" r="10" fill="#d8323e"/><path d="M3.6 6.2 L9 8 L8.6 9.8 L3.8 8.6 Z" fill="#ffd6d6"/><path d="M16.4 6.2 L11 8 L11.4 9.8 L16.2 8.6 Z" fill="#ffd6d6"/><path d="M5 16 Q10 10.2 15 16" stroke="#ffd6d6" stroke-width="2.4" fill="none"/></svg></div>
<div style="left:191px;top:109px"><svg width="12.5" height="12.5" viewBox="0 0 20 20"><path d="M10 1 L12.6 7.2 L19.3 7.6 L14.1 11.9 L15.8 18.5 L10 14.8 L4.2 18.5 L5.9 11.9 L0.7 7.6 L7.4 7.2 Z" fill="#a0a0a0"/></svg></div>
<div style="left:267.5px;top:108px"><svg width="12.5" height="12.5" viewBox="0 0 20 20" style="opacity:0.5"><circle cx="10" cy="10" r="10" fill="#e8d41e"/><rect x="5" y="5.5" width="3.6" height="3" rx="1" fill="#c8a000"/><rect x="11.4" y="5.5" width="3.6" height="3" rx="1" fill="#c8a000"/><path d="M5.5 13 H14.5" stroke="#c8a000" stroke-width="2"/></svg></div>
<div style="left:6.5px;top:137.3px;width:304px;height:21.2px;background:#fd0606;border-radius:3px;color:#fde8e8;font-size:11px;line-height:22.5px;padding-left:7.5px">Non Conformity</div>
<div style="left:7px;top:164.5px;font-size:8.3px;font-weight:bold;color:#333">Value</div>
<div style="left:6.5px;top:175.5px;width:140px;height:15.2px;background:#eceeef;border:1px solid #9a9a9a;font-size:10.3px;color:#333;line-height:11.5px;padding-left:4.3px">75.00</div>
<div style="left:10px;top:203.4px;width:56px;height:31px;border-radius:3px 3px 0 0;background:linear-gradient(#ebebeb,#f2f5f8);border:1px solid #e0e0e0;border-bottom:none"></div>
<div style="left:10px;top:232px;width:56px;height:2.4px;background:#3f72aa"></div>
<div style="left:13.7px;top:212.5px;font-size:8.6px;font-weight:bold;color:#555">Description</div>
<div style="left:66px;top:206px;width:67px;height:28.5px;border:1px solid #e2e2e2;border-bottom:none;border-left:none;border-radius:0 2px 0 0"></div>
<div style="left:69.5px;top:215.5px;font-size:8.6px;font-weight:bold;color:#555">Tip</div>
<div style="left:84.7px;top:207px;width:1px;height:27.5px;background:#e6e6e6"></div>
<div style="left:89px;top:215.5px;font-size:8.7px;font-weight:bold;color:#555">Comment</div>
<div style="left:133px;top:233.8px;width:177.5px;height:1px;background:#ddd"></div>
<div style="left:6.5px;top:241.3px;width:304.5px;height:216.5px;border:1px solid #e2e2e2;background:#fff"></div>
<div style="left:7.5px;top:272.5px;width:302.5px;height:184.5px;background:#e4e4e4"></div>
<div style="left:79px;top:242px;width:1px;height:30.5px;background:#e2e2e2"></div>
<div style="left:140px;top:242px;width:1px;height:30.5px;background:#e2e2e2"></div>
<div style="left:250px;top:242px;width:1px;height:30.5px;background:#e2e2e2"></div>
<svg class="abs" style="left:14.5px;top:248px" width="20" height="19" viewBox="0 0 20 19"><path d="M11.5 0.1 Q12.1 5.7 17.8 6.3 Q12.1 6.9 11.5 12.5 Q10.9 6.9 5.2 6.3 Q10.9 5.7 11.5 0.1 Z" fill="#7a7a7a"/><path d="M4 10.3 Q4.4 13 7.1 13.4 Q4.4 13.8 4 16.5 Q3.6 13.8 0.9 13.4 Q3.6 13 4 10.3 Z" fill="#7a7a7a"/><circle cx="2.4" cy="1.8" r="1.2" fill="#7a7a7a"/></svg>
<svg class="abs" style="left:41px;top:248px" width="20" height="18" viewBox="0 0 20 18"><path d="M2 15 L10.8 7.1" stroke="#7a7a7a" stroke-width="3.9" stroke-linecap="round"/><path d="M7.6 9.9 L9.8 7.9" stroke="#fff" stroke-width="1.3" stroke-linecap="round"/><path d="M5.3 1.8 L6.7 3.2 M9.9 0.3 V2.7" stroke="#7a7a7a" stroke-width="1.1"/><path d="M13 3.6 L15 1.4" stroke="#7a7a7a" stroke-width="1.7" stroke-linecap="round"/><circle cx="15.5" cy="6.7" r="1" fill="#7a7a7a"/><circle cx="14.3" cy="10.2" r="1" fill="#7a7a7a"/></svg>
<svg class="abs" style="left:62.3px;top:255px" width="8" height="5" viewBox="0 0 8 5"><path d="M0.6 0.6 L3.8 3.9 L7 0.6" stroke="#7a7a7a" stroke-width="1.1" fill="none"/></svg>
<svg class="abs" style="left:88.5px;top:250px" width="15" height="15" viewBox="0 0 15 15"><path d="M5.3 0.6 L1.2 4.5 L5.3 8.6" stroke="#7a7a7a" stroke-width="1.6" fill="none" stroke-linejoin="round"/><path d="M1.5 4.5 H8.3 Q12.4 4.5 12.4 8.6 Q12.4 11.3 10.3 13.1" stroke="#7a7a7a" stroke-width="1.6" fill="none" stroke-linecap="round"/></svg>
<svg class="abs" style="left:117px;top:250px" width="15" height="15" viewBox="0 0 15 15"><path d="M8.4 0.6 L12.5 4.5 L8.4 8.6" stroke="#7a7a7a" stroke-width="1.6" fill="none" stroke-linejoin="round"/><path d="M12.2 4.5 H5.4 Q1.3 4.5 1.3 8.6 Q1.3 11.3 3.4 13.1" stroke="#7a7a7a" stroke-width="1.6" fill="none" stroke-linecap="round"/></svg>
<div style="left:150px;top:251.7px;font-size:10.5px;color:#aaa">Paragraph</div>
<svg class="abs" style="left:232.5px;top:255.5px" width="9" height="6" viewBox="0 0 9 6"><path d="M0.7 0.7 L4.5 4.5 L8.3 0.7" stroke="#888" stroke-width="1.3" fill="none"/></svg>
<svg class="abs" style="left:260.5px;top:255.8px" width="13" height="3" viewBox="0 0 13 3"><circle cx="1.4" cy="1.4" r="1.3" fill="#777"/><circle cx="6.4" cy="1.4" r="1.3" fill="#777"/><circle cx="11.4" cy="1.4" r="1.3" fill="#777"/></svg>
<div style="left:0;top:464px;width:317.5px;height:1px;background:#e6e6e6"></div>
<div style="left:244.9px;top:470px;width:27.2px;height:27.7px;border:1px solid #cfcfcf;border-radius:2px;background:linear-gradient(#f6f6f6,#e6e6e6)"></div>
<svg class="abs" style="left:255px;top:478.5px" width="8" height="12" viewBox="0 0 8 12"><path d="M6.8 0.6 L1.3 6 L6.8 11.6" stroke="#444" stroke-width="1.9" fill="none"/></svg>
<div style="left:282px;top:470px;width:27.5px;height:27.7px;border:1px solid #2f48a8;border-radius:2px;background:#3a58c8"></div>
<svg class="abs" style="left:292.5px;top:478.5px" width="8" height="12" viewBox="0 0 8 12"><path d="M1.2 0.6 L6.7 6 L1.2 11.6" stroke="#fff" stroke-width="1.9" fill="none"/></svg>
</div>
</div></body></html>
